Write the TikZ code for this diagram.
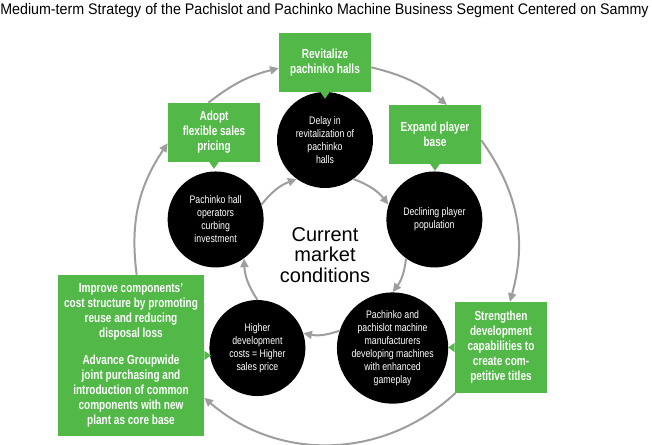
\documentclass[tikz,border=0pt]{standalone}
\usepackage{fontspec}
\setmainfont{Liberation Sans}
\newfontfamily\titlefont[FakeStretch=0.93]{Liberation Sans}
\newfontfamily\condfont[FakeStretch=0.8]{Liberation Sans}
\newfontfamily\actfont[FakeStretch=0.76]{Liberation Sans}
\usetikzlibrary{arrows.meta,calc}
\definecolor{boxgreen}{HTML}{52B848}
\definecolor{ringgray}{HTML}{9E9E9E}

\begin{document}
\begin{tikzpicture}[x=0.75pt,y=0.75pt,
		issue/.style={circle,fill=black,text=white,minimum size=72pt,inner sep=0pt,align=center,font=\condfont\fontsize{8.2}{9.8}\selectfont},
		act/.style={fill=boxgreen,text=white,align=center,inner sep=0pt,minimum width=69pt,minimum height=44pt,font=\actfont\bfseries\fontsize{9.9}{11.25}\selectfont},
		e/.style={-{Triangle[length=6.5pt,width=6pt]},draw=ringgray,line width=1.5pt}
		]
		\useasboundingbox (0,0) rectangle (652,-445);
		\node[anchor=west,inner sep=0pt,font=\titlefont\fontsize{11.5}{13}\selectfont] (title) at (0,-11) {Medium-term Strategy of the Pachislot and Pachinko Machine Business Segment Centered on Sammy};
		% current market conditions
		\coordinate (ctr) at (325,-255);
		\node[align=center,font=\fontsize{15}{15.5}\selectfont] (cur) at (ctr) {Current\\market\\conditions};
		\node[issue] (delay) at ($(ctr)+(90:115)$) {Delay in\\revitalization of\\pachinko\\halls};
		\node[issue] (decl) at ($(ctr)+(18:115)$) {Declining player\\population};
		\node[issue] (manu) at ($(ctr)+(-54:115)$) {Pachinko and\\pachislot machine\\manufacturers\\developing machines\\with enhanced\\gameplay};
		\node[issue] (high) at ($(ctr)+(-126:115)$) {Higher\\development\\costs = Higher\\sales price};
		\node[issue] (ops) at ($(ctr)+(162:115)$) {Pachinko hall\\operators\\curbing\\investment};
		% strategy boxes
		\node[act] (rev) at (325,-62.5) {Revitalize\\pachinko halls};
		\node[act] (adopt) at (214,-132.5) {Adopt\\flexible sales\\pricing};
		\node[act] (expand) at (435,-134.5) {Expand player\\base};
		\node[act,minimum height=68pt] (str) at (501,-347.5) {Strengthen\\development\\capabilities to\\create com-\\petitive titles};
		\node[act,minimum width=109.5pt,minimum height=120.75pt] (imp) at (131,-355.5) {Improve components’\\cost structure by promoting\\reuse and reducing\\disposal loss\\[9pt]Advance Groupwide\\joint purchasing and\\introduction of common\\components with new\\plant as core base};
		\foreach \n in {rev,adopt,expand}
		\fill[boxgreen] ([xshift=-3.5pt]\n.south) -- ([xshift=3.5pt]\n.south) -- ([yshift=-5pt]\n.south) -- cycle;
		\fill[boxgreen] ([yshift=3.5pt]imp.east) -- ([yshift=-3.5pt]imp.east) -- ([xshift=5pt]imp.east) -- cycle;
		\fill[boxgreen] ([yshift=3.5pt]str.west) -- ([yshift=-3.5pt]str.west) -- ([xshift=-5pt]str.west) -- cycle;
		% inner cycle
		\foreach \a/\sa/\b/\eb in {ops/18/delay/234,delay/306/decl/162,decl/234/manu/90,manu/162/high/18,high/90/ops/306}
		\draw[e] (\a.\sa) to[bend left=15.5] (\b.\eb);
		% outer cycle
		\draw[e] (imp.86) to[bend left=20.6] (adopt.193);
		\draw[e] (adopt.101) to[bend left=12] (rev.187);
		\draw[e] (rev.354) to[bend left=12.9] (expand.68);
		\draw[e] (expand.353) to[bend left=25.6] (str.79);
		\draw[e] (str.225) to[bend left=41.8] (imp.330);
	\end{tikzpicture}
\end{document}
